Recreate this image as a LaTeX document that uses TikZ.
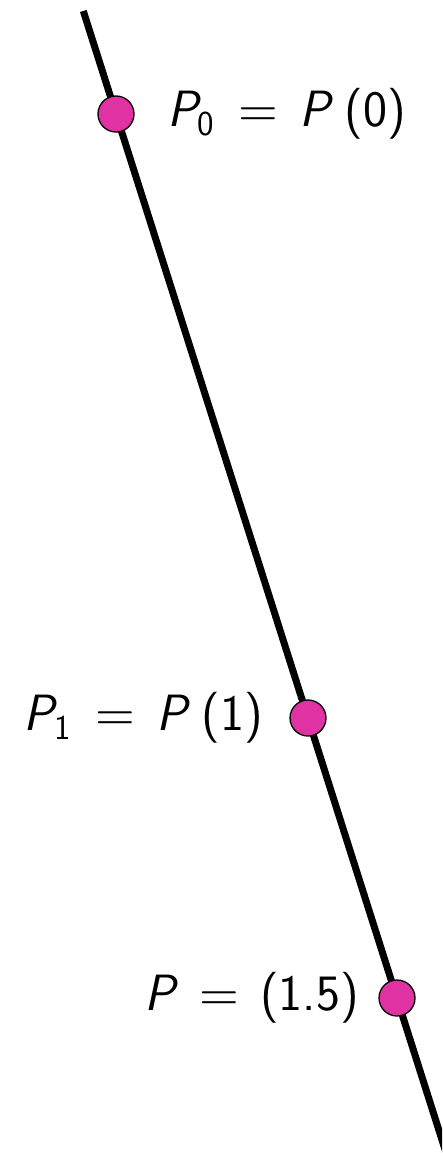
\documentclass[tikz,border=0pt]{standalone}
\usepackage{fontspec}
\usepackage{unicode-math}
\setmathfont{Latin Modern Math}
\definecolor{dotmag}{RGB}{224,50,162}
\newcommand{\PP}{{\slshape P}}
\newcommand{\sbs}[1]{\raisebox{-0.17em}{\fontsize{35}{40}\selectfont #1}}
\newcommand{\eqs}{\hspace{0.48em}$=$\hspace{0.42em}}
\newcommand{\pgap}{\hspace{0.28em}}
\tikzset{
  pt/.style={circle, draw=black, line width=1.3pt, fill=dotmag, minimum size=36pt, inner sep=0pt},
  lbl/.style={inner sep=0pt, font=\fontsize{51}{60}\selectfont\sffamily},
  curve/.style={line width=7pt, black}
}
\begin{document}
\begin{tikzpicture}[x=1pt,y=-1pt]
\useasboundingbox (0,0) rectangle (442,1156);
\clip (0,0) rectangle (442,1156);
\coordinate (top) at (83.3,11);
\coordinate (bot) at (449,1162);
\draw[curve] (top) -- (bot);
\node[pt] (p0) at (116,114) {};
\node[pt] (p1) at (308,718) {};
\node[pt] (p2) at (397,998) {};
\node[lbl, anchor=west] (l0) at (167,114) {\PP\sbs{0}\eqs\PP\pgap(0)};
\node[lbl, anchor=east] (l1) at (263,718) {\PP\sbs{1}\eqs\PP\pgap(1)};
\node[lbl, anchor=east] (l2) at (359,998) {\PP\eqs(1.5)};
\end{tikzpicture}
\end{document}
